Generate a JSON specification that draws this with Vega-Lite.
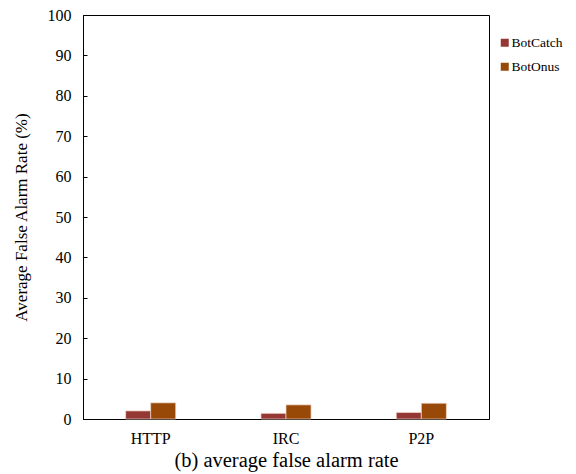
{
  "$schema": "https://vega.github.io/schema/vega-lite/v6.json",
  "width": 406,
  "height": 404,
  "autosize": "none",
  "padding": {"left": 83, "top": 15, "right": 87, "bottom": 55},
  "config": {
    "font": "Liberation Serif",
    "view": {"stroke": "black", "strokeWidth": 1}
  },
  "data": {
    "values": [
      {"protocol": "HTTP", "method": "BotCatch", "rate": 2.0},
      {"protocol": "HTTP", "method": "BotOnus", "rate": 4.0},
      {"protocol": "IRC", "method": "BotCatch", "rate": 1.4},
      {"protocol": "IRC", "method": "BotOnus", "rate": 3.5},
      {"protocol": "P2P", "method": "BotCatch", "rate": 1.6},
      {"protocol": "P2P", "method": "BotOnus", "rate": 3.9}
    ]
  },
  "mark": {"type": "bar", "stroke": "#f0d8c8", "strokeWidth": 0.7},
  "encoding": {
    "x": {
      "field": "protocol",
      "type": "nominal",
      "sort": ["HTTP", "IRC", "P2P"],
      "scale": {"paddingInner": 0.63, "paddingOuter": 0.315},
      "axis": {
        "title": "(b) average false alarm rate",
        "titleFontSize": 20.5,
        "titleFontWeight": "normal",
        "titleColor": "black",
        "titlePadding": 4,
        "labelAngle": 0,
        "labelFontSize": 16,
        "labelColor": "black",
        "labelPadding": 11,
        "ticks": false,
        "domainColor": "black"
      }
    },
    "xOffset": {
      "field": "method",
      "type": "nominal",
      "scale": {"paddingInner": 0, "paddingOuter": 0}
    },
    "y": {
      "field": "rate",
      "type": "quantitative",
      "scale": {"domain": [0, 100], "nice": false},
      "axis": {
        "title": "Average False Alarm Rate (%)",
        "titleFontSize": 17,
        "titleFontWeight": "normal",
        "titleColor": "black",
        "titlePadding": 17,
        "values": [0, 10, 20, 30, 40, 50, 60, 70, 80, 90, 100],
        "grid": false,
        "labelFontSize": 16,
        "labelColor": "black",
        "tickSize": -4,
        "labelPadding": 16,
        "tickColor": "black",
        "domainColor": "black"
      }
    },
    "color": {
      "field": "method",
      "type": "nominal",
      "scale": {"domain": ["BotCatch", "BotOnus"], "range": ["#953735", "#984807"]},
      "legend": {
        "title": null,
        "orient": "none",
        "legendX": 415,
        "legendY": 21,
        "symbolType": "square",
        "symbolSize": 64,
        "symbolStrokeWidth": 0,
        "labelFontSize": 13.5,
        "labelColor": "black",
        "rowPadding": 9,
        "labelOffset": 0
      }
    }
  }
}
